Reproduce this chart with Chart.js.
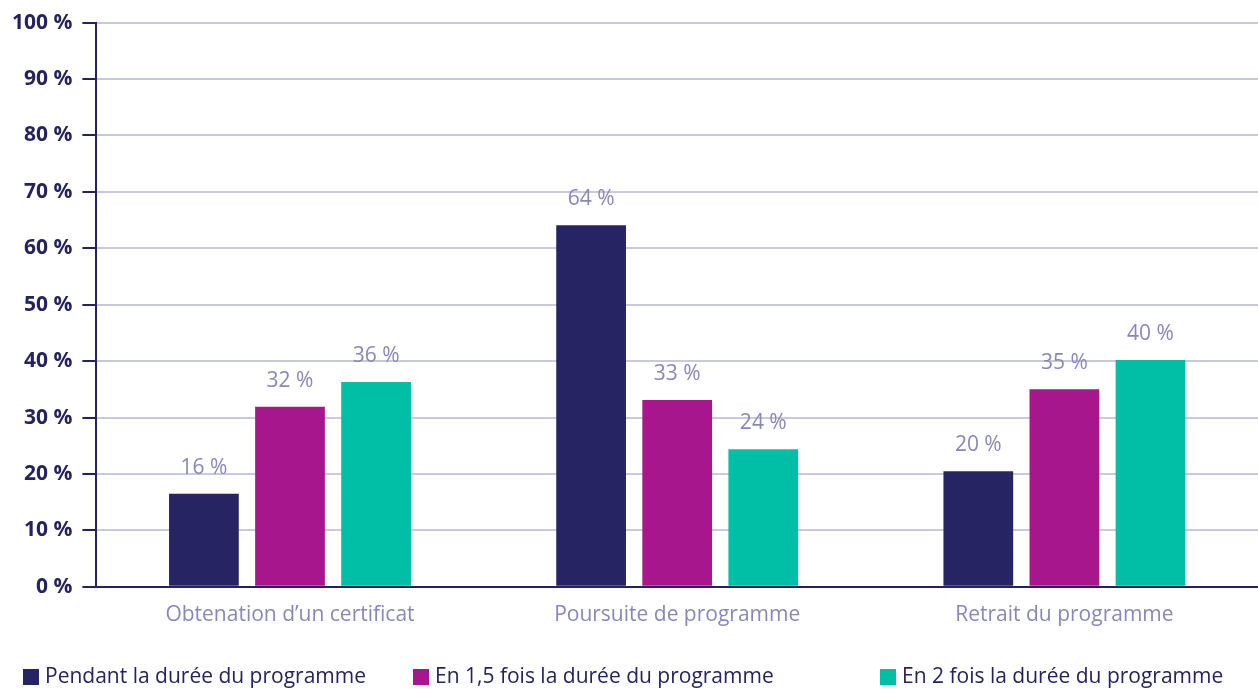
<!DOCTYPE html>
<html lang="fr">
<head>
  <meta charset="UTF-8" />
  <title>Parcours des étudiants</title>
  <style>
    * { margin: 0; padding: 0; }
    body { background: #fff; }
    .chartBox { width: 1258px; height: 689px; }
  </style>
</head>
<body>
  <div class="chartBox">
    <canvas id="myChart"></canvas>
  </div>
  <script src="https://cdn.jsdelivr.net/npm/chart.js@4/dist/chart.umd.min.js"></script>
  <script>
    const categories = ["Obtenation d\u2019un certificat", "Poursuite de programme", "Retrait du programme"];
    const seriesNames = ["Pendant la durée du programme", "En 1,5 fois la durée du programme", "En 2 fois la durée du programme"];
    const pendant = [16.5, 64.1, 20.5];
    const enUnEtDemi = [31.9, 33.1, 35.0];
    const enDeux = [36.3, 24.4, 40.2];
    const shownLabels = [[16, 64, 20], [32, 33, 35], [36, 24, 40]];
    const colors = ["#262463", "#a8168e", "#00bfa6"];

    const navy = "#25235f";
    const lilac = "#8a87b8";
    const fontFamily = "'Open Sans', Lato, sans-serif";

    // value labels above each bar
    const valueLabels = {
      id: "valueLabels",
      afterDatasetsDraw(chart) {
        const ctx = chart.ctx;
        ctx.save();
        ctx.font = "21px " + fontFamily;
        ctx.fillStyle = lilac;
        ctx.textAlign = "center";
        ctx.textBaseline = "middle";
        chart.data.datasets.forEach((ds, i) => {
          chart.getDatasetMeta(i).data.forEach((bar, j) => {
            ctx.fillText(shownLabels[i][j] + " %", bar.x, bar.y - 26);
          });
        });
        ctx.restore();
      }
    };

    // legend spread along the bottom like the original
    const bottomLegend = {
      id: "bottomLegend",
      afterDraw(chart) {
        const ctx = chart.ctx;
        const starts = [23, 413, 880];
        const y = 677;
        ctx.save();
        ctx.font = "21px " + fontFamily;
        ctx.textBaseline = "middle";
        ctx.textAlign = "left";
        chart.data.datasets.forEach((ds, i) => {
          ctx.fillStyle = ds.backgroundColor;
          ctx.fillRect(starts[i], y - 8, 16, 16);
          ctx.fillStyle = navy;
          ctx.fillText(ds.label, starts[i] + 22, y);
        });
        ctx.restore();
      }
    };

    const data = {
      labels: categories,
      datasets: [
        { label: seriesNames[0], data: pendant, backgroundColor: colors[0] },
        { label: seriesNames[1], data: enUnEtDemi, backgroundColor: colors[1] },
        { label: seriesNames[2], data: enDeux, backgroundColor: colors[2] }
      ]
    };

    const options = {
      responsive: true,
      maintainAspectRatio: false,
      animation: false,
      layout: { padding: { top: 5, left: 2, right: 0, bottom: 45 } },
      datasets: {
        bar: { categoryPercentage: 0.667, barPercentage: 0.81 }
      },
      scales: {
        x: {
          grid: { display: false, drawTicks: false },
          border: { color: navy, width: 2 },
          ticks: {
            color: lilac,
            padding: 16,
            font: { family: fontFamily, size: 21 }
          }
        },
        y: {
          min: 0,
          max: 100,
          grid: {
            color: (c) => c.tick && c.tick.value === 0 ? "rgba(0,0,0,0)" : "#c8c8de",
            lineWidth: 2,
            tickColor: navy,
            tickLength: 14
          },
          border: { color: navy, width: 2 },
          ticks: {
            stepSize: 10,
            color: navy,
            padding: 10,
            font: { family: fontFamily, size: 21, weight: "bold" },
            callback: (v) => v + " %"
          }
        }
      },
      plugins: {
        legend: { display: false },
        tooltip: { enabled: false }
      }
    };

    const myChart = new Chart(document.getElementById("myChart"), {
      type: "bar",
      data: data,
      options: options,
      plugins: [valueLabels, bottomLegend]
    });
  </script>
</body>
</html>
